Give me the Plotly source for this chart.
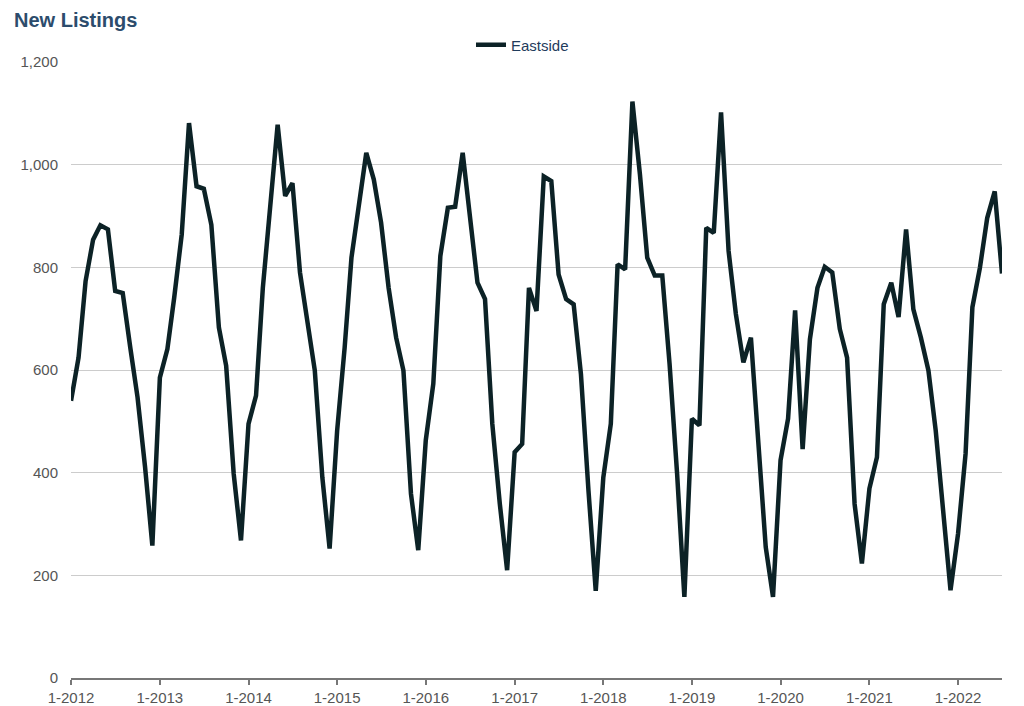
import pandas as pd
import plotly.graph_objects as go

# Monthly categories Jan 2012 .. Jul 2022
months = pd.date_range("2012-01-01", "2022-07-01", freq="MS")

eastside = [
    # 2012
    540, 624, 773, 854, 882, 874, 754, 750, 644, 547, 411, 258,
    # 2013
    585, 641, 741, 864, 1081, 958, 953, 883, 683, 608, 398, 268,
    # 2014
    495, 550, 760, 916, 1078, 939, 964, 790, 696, 599, 391, 252,
    # 2015
    482, 644, 819, 929, 1023, 971, 887, 760, 663, 599, 359, 249,
    # 2016
    463, 573, 822, 916, 918, 1023, 900, 770, 738, 495, 339, 210,
    # 2017
    440, 456, 760, 715, 977, 968, 786, 738, 728, 592, 365, 170,
    # 2018
    390, 495, 806, 796, 1123, 981, 819, 784, 784, 612, 398, 158,
    # 2019
    505, 492, 877, 867, 1102, 832, 709, 615, 663, 463, 255, 158,
    # 2020
    424, 505, 716, 446, 660, 760, 801, 790, 680, 624, 339, 223,
    # 2021
    369, 430, 728, 770, 703, 874, 718, 663, 599, 482, 320, 171,
    # 2022
    281, 437, 722, 799, 896, 948, 788,
]

y_ticks = [0, 200, 400, 600, 800, 1000, 1200]

fig = go.Figure()
fig.add_trace(go.Scatter(
    x=months, y=eastside, mode="lines", name="Eastside",
    line=dict(color="#0c2226", width=4.5),
))

fig.update_layout(
    width=1024, height=706,
    paper_bgcolor="white", plot_bgcolor="white",
    margin=dict(l=63, r=30, t=54, b=36),
    font=dict(family="Liberation Sans, Arial, sans-serif", size=15, color="#555555"),
    title=dict(
        text="<b>New Listings</b>", xref="container", yref="container",
        x=6 / 1024, xanchor="left", y=1 - 12 / 706, yanchor="middle",
        font=dict(size=20, color="#2c4c6c"),
    ),
    showlegend=True,
    legend=dict(
        orientation="h", x=0.5 - 14 / 931, xanchor="center", y=1 + 17 / 616, yanchor="middle",
        font=dict(size=15, color="#1f3b5c"), bgcolor="rgba(0,0,0,0)",
    ),
)

fig.update_xaxes(
    range=[months[0], months[-1]], automargin=False,
    tickformat="%-m-%Y", dtick="M12", tick0="2012-01-01",
    showgrid=False, showline=True, linecolor="#777777", linewidth=2,
    ticks="outside", ticklen=5, tickwidth=2, tickcolor="#777777",
    tickfont=dict(size=15, color="#555555"),
)
fig.update_yaxes(
    range=[0, 1200], tickvals=y_ticks, tickformat=",", automargin=False,
    showgrid=True, gridcolor="#cccccc", gridwidth=1,
    zeroline=False, showline=False, ticks="", ticklabelstandoff=12,
    tickfont=dict(size=15, color="#555555"),
)

fig.write_html("out.html")
